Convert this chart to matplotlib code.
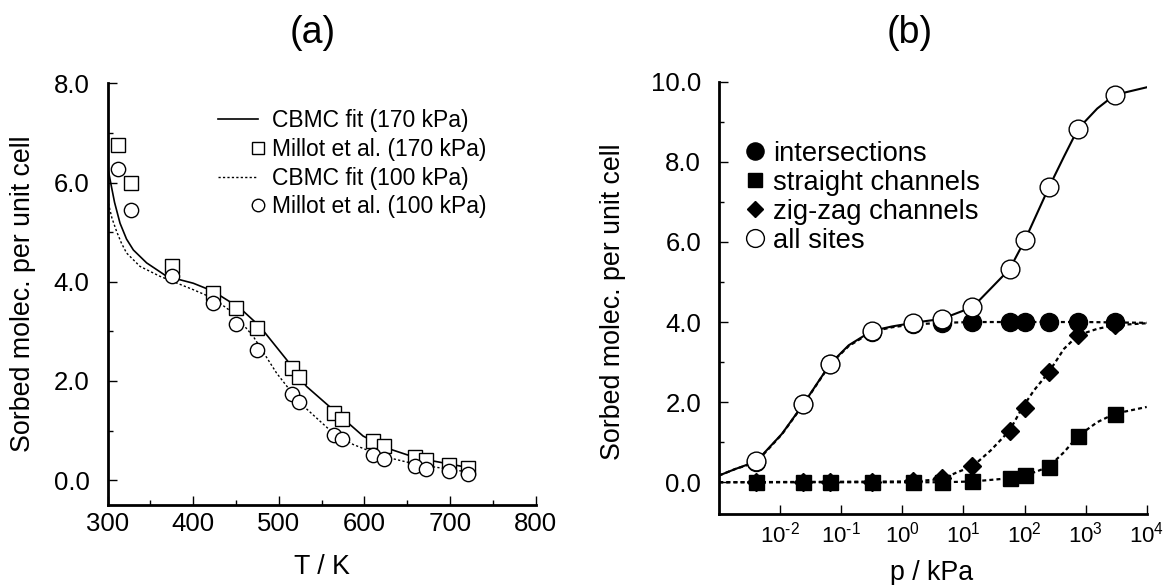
import numpy as np
import matplotlib
matplotlib.use("Agg")
import matplotlib.pyplot as plt
from matplotlib.ticker import MultipleLocator, FormatStrFormatter, LogLocator, NullFormatter
from matplotlib.lines import Line2D
from matplotlib.legend_handler import HandlerBase

plt.rcParams['font.family'] = ['Liberation Sans', 'DejaVu Sans']
plt.rcParams['mathtext.fontset'] = 'custom'
plt.rcParams['mathtext.rm'] = 'Liberation Sans'
plt.rcParams['mathtext.it'] = 'Liberation Sans'
plt.rcParams['axes.unicode_minus'] = False

# ---- panel (a): loading vs temperature ----
T_exp = [311.7, 327, 374.7, 423, 449.4, 474.7, 514.8, 523.7, 564.6, 573.2,
         610, 622.6, 658.8, 672.4, 698.4, 721]
q170_exp = [6.76, 5.99, 4.31, 3.77, 3.47, 3.07, 2.26, 2.08, 1.36, 1.23,
            0.79, 0.68, 0.47, 0.40, 0.30, 0.25]
q100_exp = [6.27, 5.45, 4.11, 3.57, 3.15, 2.63, 1.74, 1.57, 0.92, 0.83,
            0.50, 0.43, 0.28, 0.23, 0.18, 0.13]

T_fit170 = [301, 304, 308, 314.4, 322, 330, 345.5, 368.9, 400, 423, 454.5,
            477.8, 509, 532.3, 563.4, 598.4, 625.7, 660.7, 723]
q_fit170 = [6.22, 5.95, 5.6, 5.18, 4.86, 4.64, 4.38, 4.11, 3.97, 3.81, 3.47,
            3.10, 2.43, 1.89, 1.42, 0.89, 0.65, 0.45, 0.25]
T_fit100 = [300.8, 305, 310.5, 316, 322, 337.7, 361, 400, 423, 446.7, 470,
            497.3, 524.5, 563.4, 586.8, 621.8, 660.7, 723]
q_fit100 = [5.58, 5.28, 5.01, 4.78, 4.58, 4.31, 4.11, 3.84, 3.67, 3.37, 2.90,
            2.16, 1.56, 0.95, 0.72, 0.48, 0.32, 0.16]

# ---- panel (b): loading vs pressure ----
p_sim = [0.004, 0.024, 0.066, 0.32, 1.5, 4.5, 14, 57, 100, 250, 750, 3000]
q_all = [0.52, 1.96, 2.96, 3.78, 3.98, 4.08, 4.38, 5.32, 6.04, 7.36, 8.82, 9.67]
q_int = [0.50, 1.95, 2.95, 3.76, 3.95, 3.97, 4.0, 4.0, 4.0, 4.0, 4.0, 4.0]
q_str = [0, 0, 0, 0, 0, 0, 0.02, 0.10, 0.17, 0.39, 1.15, 1.71]
q_zig = [0, 0, 0, 0, 0.02, 0.10, 0.40, 1.29, 1.85, 2.75, 3.67, 3.92]

p_fit_all = [1e-3, 0.00183, 0.00405, 0.01067, 0.0241, 0.066, 0.132, 0.318, 0.678,
             1.5, 4.47, 14.2, 27.7, 56.8, 101, 250, 442, 748, 1549, 2987, 1e4]
q_fit_all = [0.17, 0.33, 0.52, 1.21, 1.96, 2.96, 3.42, 3.78, 3.89,
             3.98, 4.08, 4.375, 4.83, 5.32, 6.04, 7.36, 8.13, 8.82, 9.33, 9.67, 9.86]
p_fit_int = [1e-3, 0.00183, 0.00405, 0.01067, 0.0241, 0.066, 0.132, 0.318, 0.678,
             1.5, 4.47, 14.2, 100, 1000, 1e4]
q_fit_int = [0.17, 0.33, 0.50, 1.20, 1.95, 2.95, 3.40, 3.76, 3.87,
             3.94, 3.98, 4.0, 4.0, 4.0, 3.98]
p_fit_zig = [1e-3, 1.5, 4.47, 7.89, 14.2, 27.7, 56.8, 91, 142, 250, 442, 748, 1549, 2987, 1e4]
q_fit_zig = [0, 0.02, 0.08, 0.25, 0.40, 0.79, 1.29, 1.85, 2.29, 2.75, 3.33, 3.67, 3.83, 3.92, 3.97]
p_fit_str = [1e-3, 4.47, 14.2, 56.8, 101, 158, 250, 442, 748, 1549, 2987, 1e4]
q_fit_str = [0, 0, 0.02, 0.10, 0.17, 0.27, 0.39, 0.75, 1.15, 1.50, 1.71, 1.88]

p_ticks = [1e-2, 1e-1, 1e0, 1e1, 1e2, 1e3, 1e4]
p_ticklabels = ['$10^{\u20102}$', '$10^{\u20101}$', '$10^{0}$', '$10^{1}$',
                '$10^{2}$', '$10^{3}$', '$10^{4}$']

W, H = 1163, 585
fig = plt.figure(figsize=(W / 100, H / 100), dpi=100)

def fx(px):
    return px / W

def fy(py):
    return 1 - py / H

ax1 = fig.add_axes([fx(107.7), fy(505), fx(535.6) - fx(107.7), fy(83.3) - fy(505)])
ax2 = fig.add_axes([fx(719.2), fy(514.3), fx(1146.7) - fx(719.2), fy(81.7) - fy(514.3)])

for ax in (ax1, ax2):
    ax.spines['top'].set_visible(False)
    ax.spines['right'].set_visible(False)
    ax.spines['left'].set_linewidth(2)
    ax.spines['bottom'].set_linewidth(2)
    ax.tick_params(which='both', direction='in', width=1, labelsize=18.5)
    ax.tick_params(which='major', length=6.5)
    ax.tick_params(which='minor', length=3.5)
    ax.tick_params(axis='y', which='both', pad=13)
    ax.tick_params(axis='x', which='both', pad=5)
    ax.yaxis.set_major_formatter(FormatStrFormatter('%.1f'))

# panel (a)
dotted = (0, (1.6, 1.6))
ax1.plot(T_fit170, q_fit170, color='black', lw=1.2)
ax1.plot(T_fit100, q_fit100, color='black', lw=1.0, linestyle=dotted)
ax1.plot(T_exp, q170_exp, 's', ms=9.5, mfc='white', mec='black', mew=1.0)
ax1.plot(T_exp, q100_exp, 'o', ms=10.3, mfc='white', mec='black', mew=1.0)
ax1.set_xlim(300, 800)
ax1.set_ylim(-0.5, 8.0)
ax1.xaxis.set_major_locator(MultipleLocator(100))
ax1.xaxis.set_minor_locator(MultipleLocator(50))
ax1.yaxis.set_major_locator(MultipleLocator(2))
ax1.yaxis.set_minor_locator(MultipleLocator(1))


# legend handle: lines span the handle, single markers sit at its right end
class MarkerAtEnd(HandlerBase):
    def create_artists(self, legend, orig_handle, xdescent, ydescent,
                       width, height, fontsize, trans):
        y = height / 2 - ydescent
        if orig_handle.get_linestyle() in ('None', 'none', '', ' '):
            xs = [width - xdescent]
        else:
            xs = [-xdescent, width - xdescent]
        art = Line2D(xs, [y] * len(xs))
        art.update_from(orig_handle)
        art.set_transform(trans)
        return [art]


leg_handles = [
    Line2D([], [], color='black', lw=1.2),
    Line2D([], [], ls='none', marker='s', ms=8.5, mfc='white', mec='black', mew=1.0),
    Line2D([], [], color='black', lw=1.0, linestyle=dotted),
    Line2D([], [], ls='none', marker='o', ms=9, mfc='white', mec='black', mew=1.0),
]
leg_labels = ['CBMC fit (170 kPa)', 'Millot et al. (170 kPa)',
              'CBMC fit (100 kPa)', 'Millot et al. (100 kPa)']
ax1.legend(leg_handles, leg_labels, loc='upper right',
           bbox_to_anchor=(fx(487), fy(109.3)), bbox_transform=fig.transFigure,
           frameon=False, fontsize=16.5, handlelength=1.74, handletextpad=0.65,
           labelspacing=0.25, borderpad=0, borderaxespad=0,
           handler_map={Line2D: MarkerAtEnd()})

# panel (b)
dash = (0, (1.8, 1.4))
ax2.plot(p_fit_str, q_fit_str, color='black', lw=1.6, linestyle=dash)
ax2.plot(p_fit_zig, q_fit_zig, color='black', lw=1.6, linestyle=dash)
ax2.plot(p_fit_int, q_fit_int, color='black', lw=1.6, linestyle=dash)
ax2.plot(p_fit_all, q_fit_all, color='black', lw=1.5)
ax2.plot(p_sim, q_int, 'o', ms=13, color='black', label='intersections')
ax2.plot(p_sim, q_zig, 'D', ms=8.7, color='black', label='zig-zag channels')
ax2.plot(p_sim, q_str, 's', ms=10.8, color='black', label='straight channels')
ax2.plot(p_sim, q_all, 'o', ms=13.5, mfc='white', mec='black', mew=1.0, label='all sites')
ax2.set_xscale('log')
ax2.set_xlim(1e-3, 1e4)
ax2.set_ylim(-0.8, 10.0)
ax2.set_xticks(p_ticks)
ax2.set_xticklabels(p_ticklabels)
ax2.xaxis.set_minor_locator(LogLocator(base=10, subs=np.arange(2, 10)))
ax2.xaxis.set_minor_formatter(NullFormatter())
ax2.tick_params(axis='x', labelsize=16)
ax2.yaxis.set_major_locator(MultipleLocator(2))
ax2.yaxis.set_minor_locator(MultipleLocator(1))

h, l = ax2.get_legend_handles_labels()
order = [0, 2, 1, 3]
ax2.legend([h[i] for i in order], [l[i] for i in order], loc='upper left',
           bbox_to_anchor=(fx(746.8), fy(140.7)), bbox_transform=fig.transFigure,
           frameon=False, fontsize=19.7, handlelength=0.6, handletextpad=0.37,
           labelspacing=0.11, borderpad=0, borderaxespad=0, numpoints=1,
           markerscale=0.95)

# titles and axis labels
fig.text(fx(312.7), fy(33), '(a)', fontsize=27, ha='center', va='center')
fig.text(fx(910), fy(33), '(b)', fontsize=27, ha='center', va='center')
fig.text(fx(23.3), fy(294), 'Sorbed molec. per unit cell', fontsize=19.3,
         rotation=90, ha='center', va='center')
fig.text(fx(613.3), fy(302), 'Sorbed molec. per unit cell', fontsize=19.3,
         rotation=90, ha='center', va='center')
fig.text(fx(321.7), fy(574), 'T / K', fontsize=19.3, ha='center', va='baseline')
fig.text(fx(931.7), fy(580), 'p / kPa', fontsize=19.3, ha='center', va='baseline')

fig.savefig('out.png', dpi=100)
